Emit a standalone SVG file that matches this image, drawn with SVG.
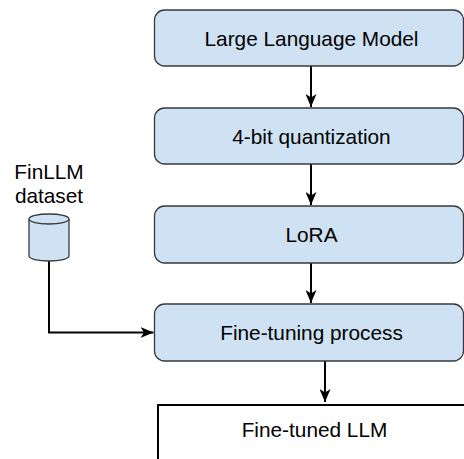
<svg xmlns="http://www.w3.org/2000/svg" width="464" height="459" viewBox="0 0 464 459">
<defs>
<style>
.box{fill:#cfe2f3;stroke:#36393d;stroke-width:1.3}
.txt{font-family:"Liberation Sans",Arial,sans-serif;font-size:20.8px;fill:#000;text-anchor:middle}
.edge{fill:none;stroke:#000;stroke-width:2}
</style>
<marker id="arr" markerUnits="userSpaceOnUse" viewBox="0 0 13 11" refX="13" refY="5.5" markerWidth="13" markerHeight="11" orient="auto">
<path d="M0,0 L13,5.5 L0,11 L3.5,5.5 Z" fill="#000"/>
</marker>
</defs>
<rect width="464" height="459" fill="#fff"/>
<g id="connectors">
<line class="edge" x1="311" y1="66" x2="311" y2="107" marker-end="url(#arr)"/>
<line class="edge" x1="311" y1="164" x2="311" y2="205" marker-end="url(#arr)"/>
<line class="edge" x1="311" y1="263" x2="311" y2="303" marker-end="url(#arr)"/>
<line class="edge" x1="325" y1="361" x2="325" y2="402" marker-end="url(#arr)"/>
<path class="edge" d="M49,261 L49,332.5 L153.5,332.5" marker-end="url(#arr)"/>
</g>
<g id="llm">
<rect class="box" x="154.5" y="10" width="309" height="56" rx="10"/>
<text class="txt" x="311.5" y="46">Large Language Model</text>
</g>
<g id="quant">
<rect class="box" x="154.5" y="108" width="309" height="56" rx="10"/>
<text class="txt" x="311.5" y="143.5">4-bit quantization</text>
</g>
<g id="lora">
<rect class="box" x="154.5" y="206" width="309" height="57" rx="10"/>
<text class="txt" x="311.5" y="242">LoRA</text>
</g>
<g id="finetune">
<rect class="box" x="154.5" y="304" width="309" height="57" rx="10"/>
<text class="txt" x="311.5" y="340">Fine-tuning process</text>
</g>
<g id="finetuned">
<rect x="158" y="405" width="320" height="80" fill="#fff" stroke="#000" stroke-width="2"/>
<text class="txt" x="314.5" y="437">Fine-tuned LLM</text>
</g>
<g id="dataset">
<path class="box" d="M29,219 A20,5 0 0 1 69,219 L69,256 A20,5 0 0 1 29,256 Z"/>
<path d="M29,219 A20,5 0 0 0 69,219" fill="none" stroke="#36393d" stroke-width="1.3"/>
<text class="txt" x="49" y="179">FinLLM</text>
<text class="txt" x="49" y="203">dataset</text>
</g>
</svg>
